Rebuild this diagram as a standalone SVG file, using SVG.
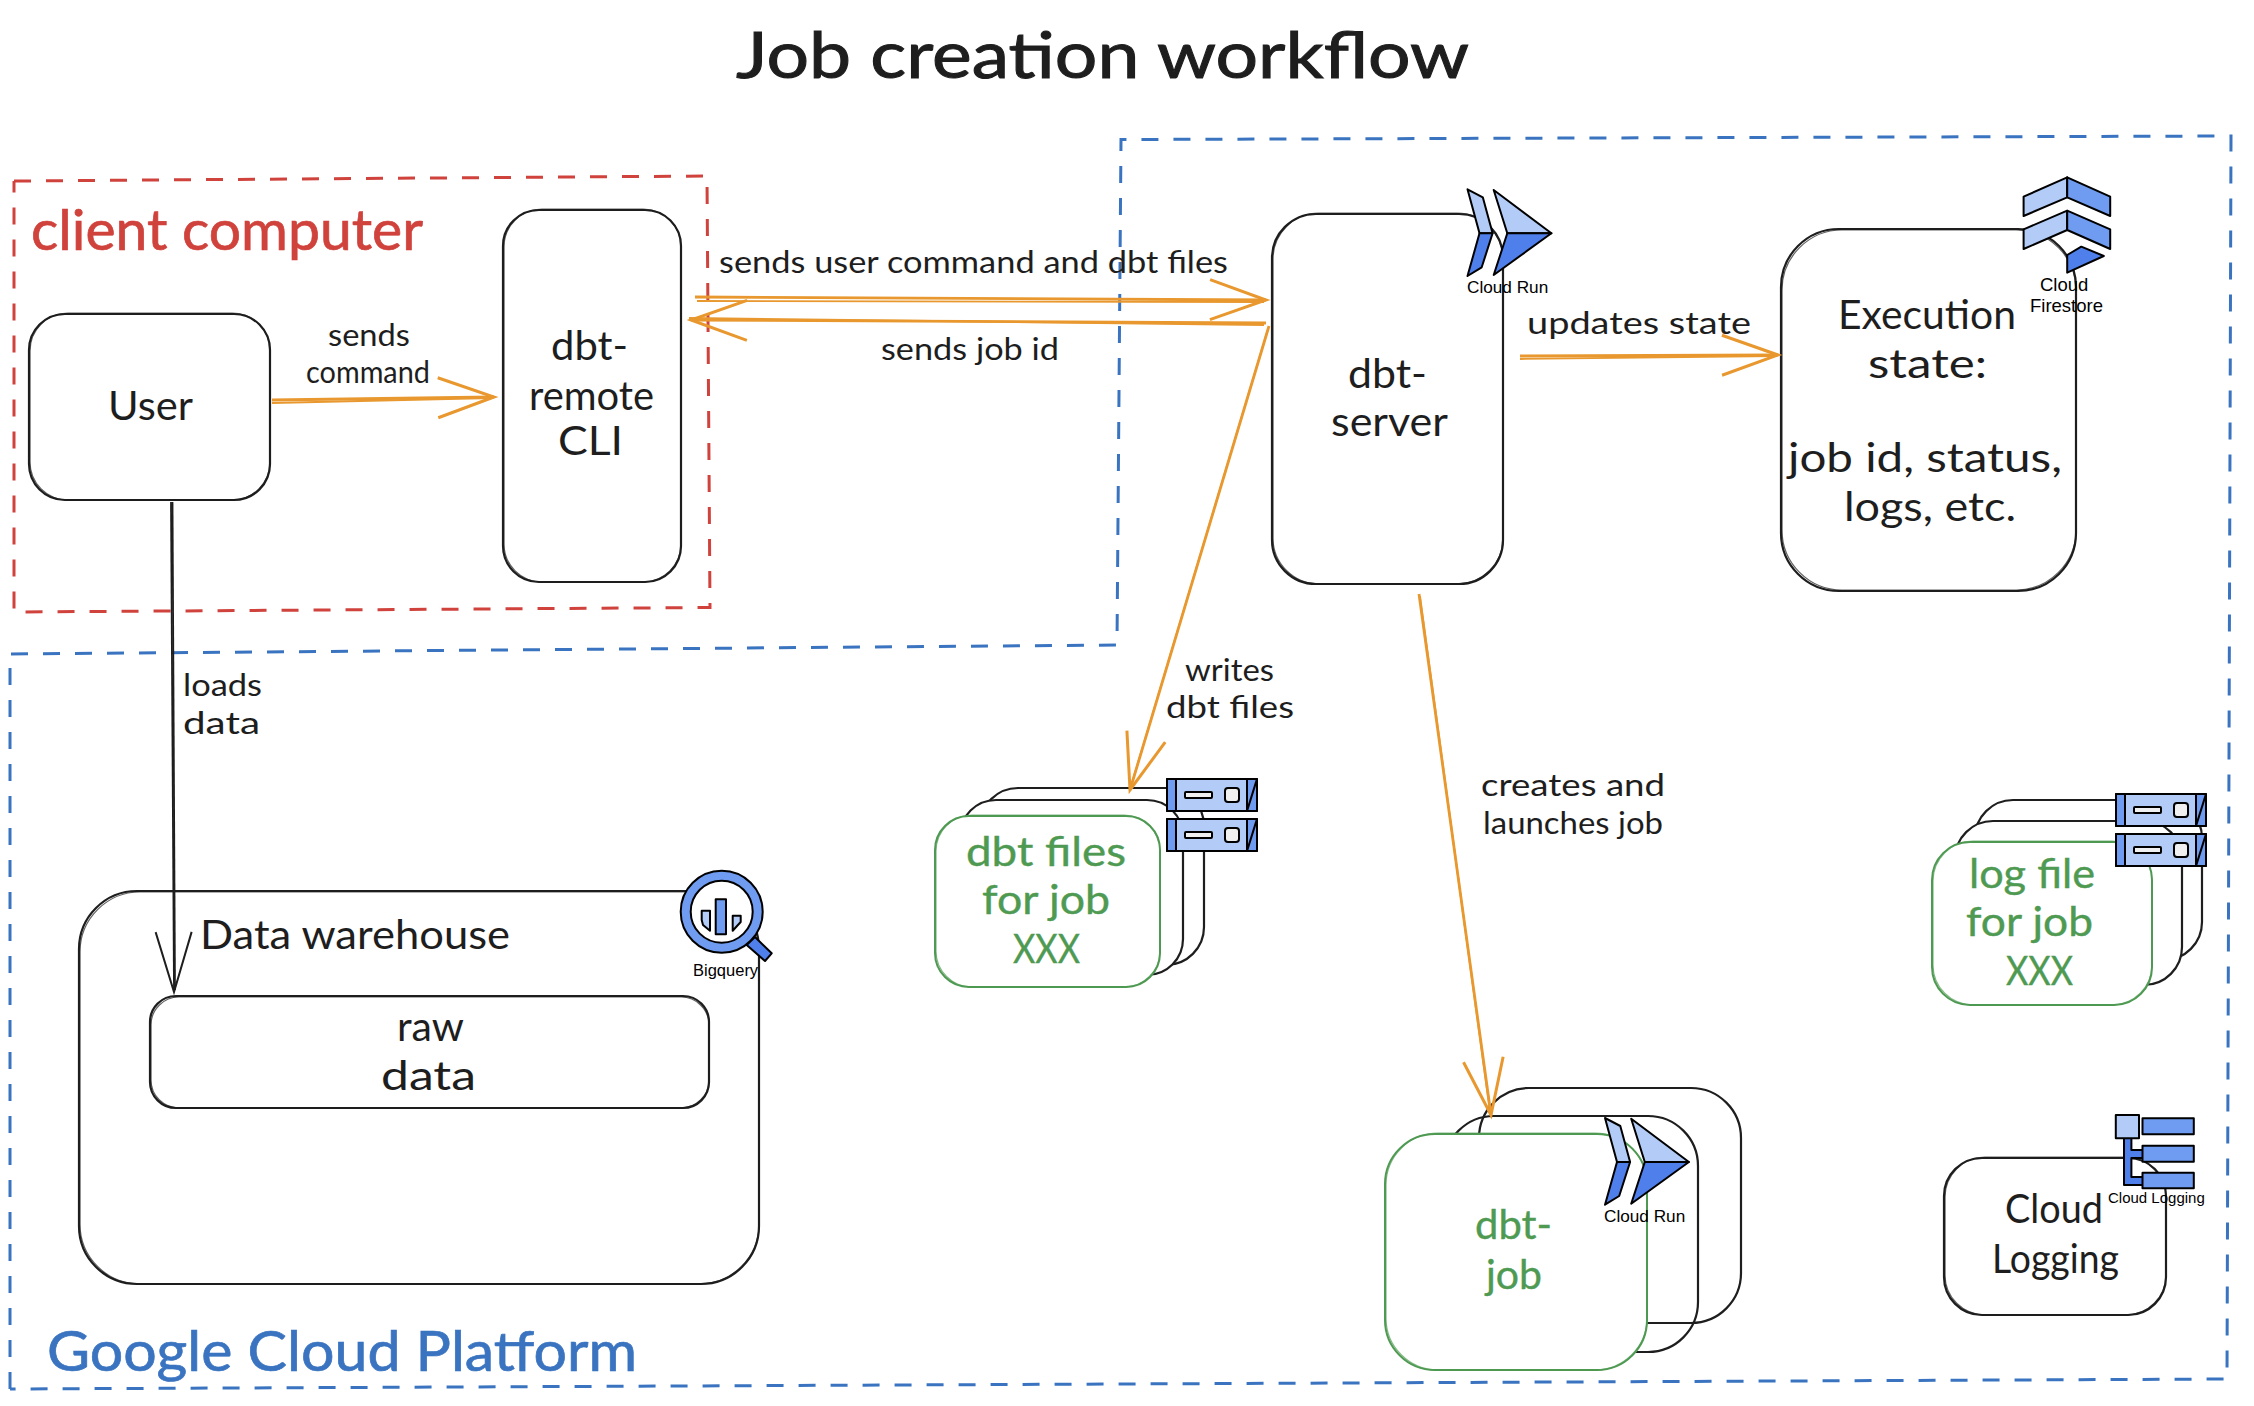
<svg xmlns="http://www.w3.org/2000/svg" width="2254" height="1406" viewBox="0 0 2254 1406">
<style>
text{font-family:"Lato","Noto Sans",sans-serif;fill:#1e1e1e}
.t30{font-size:30px}.t40{font-size:41px}
.t40.g{fill:#4f9a52;stroke:#4f9a52;stroke-width:.4}
.b{fill:#fff;stroke:#1e1e1e;stroke-width:2.2}
.n{fill:none;stroke:#1e1e1e;stroke-width:1.2;opacity:.7}
.gb{fill:#fff;stroke:#4f9a52;stroke-width:2}
.gn{fill:none;stroke:#4f9a52;stroke-width:1.2;opacity:.7}
.dash{fill:none;stroke-width:3;stroke-dasharray:17 15}
.o{fill:none;stroke:#e8982e;stroke-width:2.8}
.o1{fill:none;stroke:#e8982e;stroke-width:1.8}
.k{fill:none;stroke:#1e1e1e;stroke-width:1.8}
.ic{font-family:"Liberation Sans",Arial,sans-serif;fill:#000}
.ic15{font-size:15px}.ic17{font-size:17.200px}.ic18{font-size:18.500px}
.l{fill:#b2ccf7;stroke:#000;stroke-width:2;stroke-linejoin:round}
.m{fill:#6f9cf0;stroke:#000;stroke-width:2;stroke-linejoin:round}
.d{fill:#4f7fea;stroke:#000;stroke-width:2;stroke-linejoin:round}
</style>
<defs>
<marker id="ao" markerUnits="userSpaceOnUse" markerWidth="70" markerHeight="50" refX="58" refY="25" orient="auto"><path d="M2 5L58 25L2 45" fill="none" stroke="#e8982e" stroke-width="3"/></marker>
<marker id="ak" markerUnits="userSpaceOnUse" markerWidth="70" markerHeight="50" refX="62" refY="25" orient="auto"><path d="M2 7L62 25L2 43" fill="none" stroke="#1e1e1e" stroke-width="2"/></marker>
<g id="icon-run">
<path class="l" d="M0 0L15.3 8L25.1 44L12 44Z"/><path class="d" d="M12 44L25.1 44L14.2 78L0 86.7Z"/>
<path class="l" d="M26.2 .7L83.9 44L39.8 44Z"/><path class="d" d="M39.8 44L83.9 44L26.2 85.7Z"/>
</g>
<g id="icon-srv">
<rect class="l" x="0" y="0" width="90" height="32"/><rect class="m" x="0" y="0" width="9" height="32"/>
<path class="m" d="M80 0H90V32H80Z"/><path d="M80 32L90 0" stroke="#000" stroke-width="2"/>
<rect x="18" y="13" width="27" height="6" fill="#f0f0f0" stroke="#000" stroke-width="2" rx="1"/>
<rect x="58" y="9" width="14" height="14" rx="3" fill="#f0f0f0" stroke="#000" stroke-width="2"/>
</g>
</defs>
<rect width="2254" height="1406" fill="#fff"/>

<g id="title"><text x="736" y="78" font-size="64" stroke="#1e1e1e" stroke-width="1" textLength="733" lengthAdjust="spacingAndGlyphs">Job creation workflow</text></g>

<g id="gcp-boundary">
<path class="dash" stroke="#3a74c0" d="M10 1389L10 654L1117 645L1121 139.500L2231 136L2227 1379L10 1389"/>
<text x="47" y="1371" font-size="56" stroke="#3a74c0" stroke-width=".7" style="fill:#3a74c0" textLength="590" lengthAdjust="spacingAndGlyphs">Google Cloud Platform</text>
</g>
<g id="client-boundary">
<path class="dash" stroke="#d0423c" d="M14 181L707 176L710 607.500L14 612L14 181"/>
<text x="31" y="250" font-size="56" stroke="#d0423c" stroke-width=".7" style="fill:#d0423c" textLength="392" lengthAdjust="spacingAndGlyphs">client computer</text>
</g>

<g id="node-user">
<rect class="b" x="29" y="314" width="241" height="186" rx="36"/><rect class="n" x="30" y="313" width="240" height="187" rx="38"/>
<text class="t40" x="108" y="420" textLength="85" lengthAdjust="spacingAndGlyphs">User</text>
</g>
<g id="node-cli">
<rect class="b" x="503" y="210" width="178" height="372" rx="36"/><rect class="n" x="504" y="209" width="177" height="373" rx="38"/>
<text class="t40" x="551" y="360" textLength="77" lengthAdjust="spacingAndGlyphs">dbt-</text>
<text class="t40" x="529" y="410" textLength="125" lengthAdjust="spacingAndGlyphs">remote</text>
<text class="t40" x="558" y="455" textLength="65" lengthAdjust="spacingAndGlyphs">CLI</text>
</g>
<g id="node-server">
<rect class="b" x="1272" y="214" width="231" height="370" rx="44"/><rect class="n" x="1273" y="213" width="230" height="371" rx="46"/>
<text class="t40" x="1348" y="388" textLength="79" lengthAdjust="spacingAndGlyphs">dbt-</text>
<text class="t40" x="1331" y="436" textLength="117" lengthAdjust="spacingAndGlyphs">server</text>
<use href="#icon-run" x="1467.500" y="189.300"/>
<text class="ic ic17" x="1467" y="293">Cloud Run</text>
</g>
<g id="node-execution">
<rect class="b" x="1781" y="229" width="295" height="362" rx="58"/><rect class="n" x="1782" y="230" width="294" height="360" rx="60"/>
<text class="t40" x="1838" y="329" textLength="178" lengthAdjust="spacingAndGlyphs">Execution</text>
<text class="t40" x="1868" y="378" textLength="119" lengthAdjust="spacingAndGlyphs">state:</text>
<text class="t40" x="1788" y="472" textLength="274" lengthAdjust="spacingAndGlyphs">job id, status,</text>
<text class="t40" x="1844" y="521" textLength="172" lengthAdjust="spacingAndGlyphs">logs, etc.</text>
<path class="l" d="M2023.600 196.700L2067.200 177.300L2067.200 197.300L2023.600 216Z"/><path class="m" d="M2067.200 177.300L2110.200 196.700L2110.200 216L2067.200 197.300Z"/>
<path class="l" d="M2023.600 229.300L2067.200 210.700L2067.200 230L2023.600 249Z"/><path class="m" d="M2067.200 210.700L2110.200 229.300L2110.200 249L2067.200 230Z"/>
<path class="d" d="M2067.200 255L2081.300 246.700L2103.800 256L2067.200 272.700Z"/>
<text class="ic ic18" x="2040" y="291">Cloud</text>
<text class="ic ic18" x="2030" y="312">Firestore</text>
</g>
<g id="node-warehouse">
<rect class="b" x="79" y="891" width="680" height="393" rx="58"/><rect class="n" x="80" y="892" width="679" height="392" rx="60"/>
<text class="t40" x="200" y="949" textLength="310" lengthAdjust="spacingAndGlyphs">Data warehouse</text>
<circle cx="721.700" cy="911.700" r="36" fill="#fff" stroke="#6f9cf0" stroke-width="10"/>
<circle cx="721.700" cy="911.700" r="41" fill="none" stroke="#000" stroke-width="2"/>
<circle cx="721.700" cy="911.700" r="31" fill="none" stroke="#000" stroke-width="2"/>
<path class="d" d="M755 937L771.700 953.300L765 961L746.700 945Z"/>
<rect class="m" x="715.700" y="899.300" width="10.300" height="35"/>
<path class="l" d="M701.700 910.700H710V930.700L703 925L701.700 920Z"/>
<path class="l" d="M732.700 915.700H740.700V922L737 926L732.700 930.700Z"/>
<text class="ic" font-size="16.500" x="693" y="976">Bigquery</text>
</g>
<g id="node-raw">
<rect class="b" x="150" y="996" width="559" height="112" rx="26"/><rect class="n" x="151" y="997" width="558" height="111" rx="28"/>
<text class="t40" x="397" y="1041" textLength="67" lengthAdjust="spacingAndGlyphs">raw</text>
<text class="t40" x="381" y="1090" textLength="95" lengthAdjust="spacingAndGlyphs">data</text>
</g>
<g id="node-dbt-files">
<rect class="b" x="980" y="788" width="224" height="177" rx="38"/>
<rect class="b" x="960" y="800" width="223" height="175" rx="36"/>
<rect class="gb" x="935" y="816" width="225" height="171" rx="34"/><rect class="gn" x="936" y="815" width="224" height="172" rx="36"/>
<text class="t40 g" x="966" y="866" textLength="160" lengthAdjust="spacingAndGlyphs">dbt files</text>
<text class="t40 g" x="982" y="914" textLength="128" lengthAdjust="spacingAndGlyphs">for job</text>
<text class="t40 g" x="1013" y="963" textLength="67" lengthAdjust="spacingAndGlyphs">XXX</text>
<use href="#icon-srv" x="1167" y="779"/><use href="#icon-srv" x="1167" y="819"/>
</g>
<g id="node-log-file">
<rect class="b" x="1975" y="800" width="227" height="160" rx="38"/>
<rect class="b" x="1955" y="821" width="227" height="164" rx="38"/>
<rect class="gb" x="1932" y="842" width="220" height="163" rx="38"/><rect class="gn" x="1933" y="841" width="219" height="164" rx="40"/>
<text class="t40 g" x="1969" y="888" textLength="126" lengthAdjust="spacingAndGlyphs">log file</text>
<text class="t40 g" x="1966" y="936" textLength="127" lengthAdjust="spacingAndGlyphs">for job</text>
<text class="t40 g" x="2006" y="985" textLength="67" lengthAdjust="spacingAndGlyphs">XXX</text>
<use href="#icon-srv" x="2116" y="794"/><use href="#icon-srv" x="2116" y="834"/>
</g>
<g id="node-dbt-job">
<rect class="b" x="1479" y="1088" width="262" height="235" rx="50" style="fill:none"/>
<rect class="b" x="1444" y="1116" width="254" height="236" rx="50" style="fill:none"/>
<rect class="gb" x="1385" y="1134" width="262" height="236" rx="50"/><rect class="gn" x="1386" y="1133" width="261" height="237" rx="52"/>
<text class="t40 g" x="1475" y="1239" textLength="77" lengthAdjust="spacingAndGlyphs">dbt-</text>
<text class="t40 g" x="1486" y="1289" textLength="56" lengthAdjust="spacingAndGlyphs">job</text>
<use href="#icon-run" x="1605" y="1118"/>
<text class="ic ic17" x="1604" y="1222">Cloud Run</text>
</g>
<g id="node-logging">
<rect class="b" x="1944" y="1158" width="222" height="157" rx="38"/><rect class="n" x="1945" y="1157" width="221" height="158" rx="40"/>
<text class="t40" x="2005" y="1223" textLength="98" lengthAdjust="spacingAndGlyphs">Cloud</text>
<text class="t40" x="1992" y="1273" textLength="127" lengthAdjust="spacingAndGlyphs">Logging</text>
<path class="d" d="M2124 1138H2131.400V1150H2143V1158H2131.400V1177H2143V1185H2124Z"/>
<rect class="l" x="2115.800" y="1115" width="23.200" height="23.300"/>
<rect class="m" x="2142.500" y="1118.300" width="51.300" height="16"/>
<rect class="m" x="2142.500" y="1145.700" width="51.300" height="16"/>
<rect class="m" x="2142.500" y="1172.700" width="51.300" height="15.600"/>
<text class="ic ic15" x="2108" y="1203">Cloud Logging</text>
</g>

<g id="connectors">
<path class="o" d="M272 400L494 397" marker-end="url(#ao)"/><path class="o1" d="M272 403L492 398"/>
<path class="o" d="M695 297L1266 300" marker-end="url(#ao)"/><path class="o1" d="M697 301L1264 302"/>
<path class="o" d="M1266 323L691 320" marker-end="url(#ao)"/><path class="o1" d="M1264 325L689 318"/>
<path class="o" d="M1269 326L1130 790" marker-end="url(#ao)"/><path class="o1" d="M1268 329L1131 786"/>
<path class="o" d="M1419 594L1491 1115" marker-end="url(#ao)"/><path class="o1" d="M1420 596L1490 1112"/>
<path class="o" d="M1520 356L1778 355" marker-end="url(#ao)"/><path class="o1" d="M1520 359L1776 356"/>
<path class="k" d="M171 502L174 992" marker-end="url(#ak)"/><path class="k" d="M172.500 502L175 990"/>
<text class="t30" x="328" y="346" textLength="82" lengthAdjust="spacingAndGlyphs">sends</text>
<text class="t30" x="306" y="383" textLength="124" lengthAdjust="spacingAndGlyphs">command</text>
<text class="t30" x="719" y="273" textLength="509" lengthAdjust="spacingAndGlyphs">sends user command and dbt files</text>
<text class="t30" x="881" y="360" textLength="178" lengthAdjust="spacingAndGlyphs">sends job id</text>
<text class="t30" x="1185" y="681" textLength="89" lengthAdjust="spacingAndGlyphs">writes</text>
<text class="t30" x="1166" y="718" textLength="128" lengthAdjust="spacingAndGlyphs">dbt files</text>
<text class="t30" x="1481" y="796" textLength="184" lengthAdjust="spacingAndGlyphs">creates and</text>
<text class="t30" x="1483" y="834" textLength="180" lengthAdjust="spacingAndGlyphs">launches job</text>
<text class="t30" x="1527" y="334" textLength="224" lengthAdjust="spacingAndGlyphs">updates state</text>
<text class="t30" x="183" y="696" textLength="79" lengthAdjust="spacingAndGlyphs">loads</text>
<text class="t30" x="183" y="734" textLength="77" lengthAdjust="spacingAndGlyphs">data</text>
</g>
</svg>
